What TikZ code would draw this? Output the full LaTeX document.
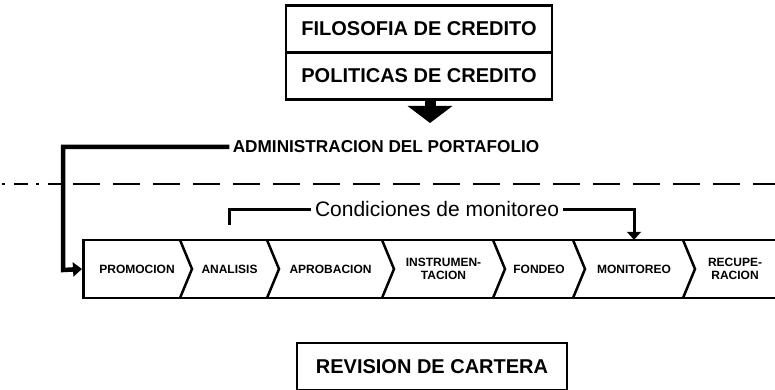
\documentclass[tikz,border=0pt]{standalone}
\usepackage{fontspec}
\setmainfont{Liberation Sans}
\usepackage{tikz}
\usetikzlibrary{positioning,arrows.meta}
\tikzstyle{titlebox} = [rectangle, draw=black, line width=2.5pt, minimum width=266pt, minimum height=47pt, text centered, font=\fontsize{20}{24}\selectfont\bfseries]
\tikzstyle{stage} = [inner sep=0pt, minimum height=58pt, align=center, font=\fontsize{12}{13}\selectfont\bfseries]
\tikzstyle{chevron} = [line width=2.5pt, line join=miter]
\tikzstyle{bracket} = [line width=3pt, line join=miter, -{Triangle[length=8pt,width=14pt]}]

\begin{document}
\begin{tikzpicture}[x=1pt, y=-1pt]
    \useasboundingbox (0,0) rectangle (775,390);

    \node (filosofia) [titlebox] at (419,29) {FILOSOFIA DE CREDITO};
    
    \node (politicas) [titlebox, below=-2.5pt of filosofia] {POLITICAS DE CREDITO};
    
    \coordinate (flecha) at (430,123);
    
    \draw [line width=11pt, -{Triangle[length=17pt,width=44pt]}] (politicas.south -| flecha) -- (flecha);
    
    \node (admin) [font=\fontsize{17.2}{20}\selectfont\bfseries] at (386,147) {ADMINISTRACION DEL PORTAFOLIO};
    
    % separador
    \draw [line width=2pt, dash pattern=on 3pt off 9pt on 14pt off 8pt] (2,184) -- (63,184);
    \draw [line width=2pt, dash pattern=on 27pt off 13pt, dash phase=-10pt] (63,184) -- (775,184);
    
    \node (proceso) [draw, line width=2.5pt, minimum width=698pt, minimum height=58pt, inner sep=0pt, anchor=west] at (82,269) {};
    
    \foreach \a/\b/\nombre/\texto in {82/180/promocion/PROMOCION, 180/267/analisis/ANALISIS, 267/382/aprobacion/APROBACION, 382/493/instrumentacion/{INSTRUMEN-\\TACION}, 493/573/fondeo/FONDEO, 573/683/monitoreo/MONITOREO, 683/775/recuperacion/{RECUPE-\\RACION}}
        \node (\nombre) [stage] at ({(\a+\b)/2+6},269) {\texto};
    
    \foreach \x in {180,267,382,493,573,683}
        \draw [chevron] (\x,240) -- (\x+12,269) -- (\x,298);
    
    \draw [line width=4.5pt, line join=miter, -{Triangle[length=9pt,width=14pt]}] (admin.west) -| (63,270) -- (proceso.west);
    
    \node (condiciones) [font=\fontsize{21}{24}\selectfont] at (437,209) {Condiciones de monitoreo};
    
    \draw [line width=3pt, line join=miter] (condiciones.west) -| ([yshift=15pt]analisis.north);
    
    \draw [bracket] (condiciones.east) -| (monitoreo.north);
    
    \node (revision) [titlebox, minimum width=270pt] at (432,366.5) {REVISION DE CARTERA};

\end{tikzpicture}
\end{document}
